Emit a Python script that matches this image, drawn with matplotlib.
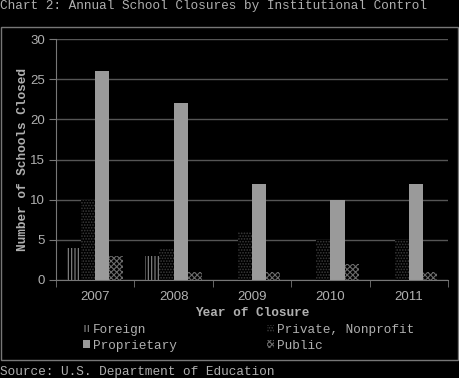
import numpy as np
import matplotlib.pyplot as plt
from matplotlib.patches import Rectangle, Patch

years = ['2007', '2008', '2009', '2010', '2011']
foreign = [4, 3, 0, 0, 0]
private_nonprofit = [10, 4, 6, 5, 5]
proprietary = [26, 22, 12, 10, 12]
public = [3, 1, 1, 2, 1]

plt.rcParams['hatch.linewidth'] = 0.8
mono = 'Liberation Mono'
sans = 'Liberation Sans'
txt = '#b0b0b0'

fig = plt.figure(figsize=(4.6, 3.78), dpi=100, facecolor='black')
ax = fig.add_axes([56 / 460, 1 - 280 / 378, 392 / 460, 241 / 378], facecolor='black')

x = np.arange(len(years))
w = 0.18
series = [
    (foreign, 'Foreign', dict(facecolor='black', hatch='|||||', edgecolor='#8a8a8a')),
    (private_nonprofit, 'Private, Nonprofit', dict(facecolor='black', hatch='......', edgecolor='#3c3c3c')),
    (proprietary, 'Proprietary', dict(facecolor='#9a9a9a', edgecolor='#9a9a9a')),
    (public, 'Public', dict(facecolor='black', hatch='xxxxxx', edgecolor='#6a6a6a')),
]
handles = {}
for i, (vals, name, style) in enumerate(series):
    ax.bar(x + (i - 1.5) * w, vals, w, linewidth=0, **style)
    handles[name] = Patch(linewidth=0, **style)

ax.set_xlim(-0.5, len(years) - 0.5)
ax.set_ylim(0, 30)
ax.set_yticks(range(0, 31, 5))
ax.yaxis.grid(True, color='#555555', linewidth=1)
ax.set_axisbelow(True)
ax.set_xticks(x)
ax.set_xticklabels(years)
ax.set_xticks(np.arange(-0.5, len(years)), minor=True)
ax.tick_params(axis='x', which='major', length=0, pad=8)
ax.tick_params(axis='x', which='minor', length=5, color='#777777')
ax.tick_params(axis='y', length=5, color='#777777', pad=3)
for lab in ax.get_xticklabels() + ax.get_yticklabels():
    lab.set_fontfamily(sans)
    lab.set_fontsize(9.5)
    lab.set_color(txt)
for s in ['top', 'right']:
    ax.spines[s].set_visible(False)
for s in ['left', 'bottom']:
    ax.spines[s].set_color('#777777')

ax.set_xlabel('Year of Closure', fontfamily=mono, fontweight='bold', fontsize=9.2, color=txt, labelpad=3)
ax.set_ylabel('Number of Schools Closed', fontfamily=mono, fontweight='bold', fontsize=9.2, color=txt, labelpad=1)

order = ['Foreign', 'Proprietary', 'Private, Nonprofit', 'Public']
fig.legend([handles[n] for n in order], order, ncol=2, loc='upper left',
           bbox_to_anchor=(83 / 460, 1 - 324 / 378), frameon=False,
           prop={'family': mono, 'size': 9.2}, labelcolor=txt,
           handlelength=0.55, handleheight=0.55, handletextpad=0.25,
           columnspacing=7.0, labelspacing=0.3, borderpad=0, borderaxespad=0)

fig.patches.append(Rectangle((1 / 460, 1 - 360 / 378), 457 / 460, 333 / 378,
                             transform=fig.transFigure, fill=False,
                             edgecolor='#777777', linewidth=1))

fig.text(0.0, 1 - 6 / 378, 'Chart 2: Annual School Closures by Institutional Control',
         fontfamily=mono, fontsize=9.2, color=txt, va='center', ha='left')
fig.text(0.0, 1 - 372 / 378, 'Source: U.S. Department of Education',
         fontfamily=mono, fontsize=9.2, color=txt, va='center', ha='left')

fig.savefig('out.png', dpi=100, facecolor='black')
